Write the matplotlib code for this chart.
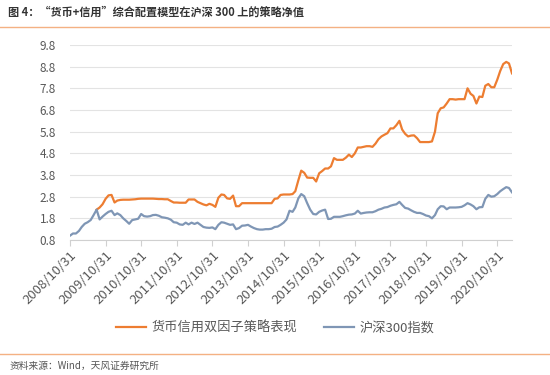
import matplotlib
matplotlib.use('Agg')
from matplotlib import pyplot as plt
from matplotlib.transforms import ScaledTranslation
import numpy as np
import pandas as pd

plt.rcParams['font.family'] = ['Noto Sans CJK SC', 'DejaVu Sans']

# monthly net values, 2008/10 .. 2021/03
strategy = [np.nan] * 9 + [2.2, 2.3, 2.45,
    2.7, 2.86, 2.88, 2.53, 2.62, 2.65, 2.66, 2.66, 2.66, 2.67, 2.68, 2.7,
    2.71, 2.71, 2.71, 2.71, 2.71, 2.7, 2.69, 2.69, 2.68, 2.68, 2.6, 2.53,
    2.53, 2.52, 2.52, 2.52, 2.67, 2.67, 2.67, 2.56, 2.5, 2.44, 2.4, 2.47,
    2.42, 2.33, 2.75, 2.9, 2.88, 2.72, 2.7, 2.85, 2.36, 2.36, 2.5, 2.5,
    2.5, 2.5, 2.5, 2.5, 2.5, 2.5, 2.5, 2.5, 2.5, 2.7, 2.72, 2.88,
    2.9, 2.9, 2.9, 2.92, 3.05, 3.55, 4.0, 3.9, 3.68, 3.67, 3.67, 3.5,
    3.88, 3.98, 4.1, 4.1, 4.2, 4.58, 4.5, 4.5, 4.5, 4.6, 4.74, 4.63,
    4.8, 5.07, 5.07, 5.1, 5.13, 5.13, 5.1, 5.25, 5.45, 5.58, 5.66, 5.73,
    5.95, 5.95, 6.1, 6.3, 5.9, 5.7, 5.58, 5.62, 5.63, 5.5, 5.32, 5.32,
    5.32, 5.32, 5.35, 5.8, 6.65, 6.88, 6.92, 7.1, 7.3, 7.3, 7.28, 7.3,
    7.3, 7.3, 7.8, 7.55, 7.45, 7.1, 7.42, 7.4, 7.92, 8.0, 7.85, 7.85,
    8.2, 8.6, 8.92, 9.02, 8.95, 8.49]

hs300 = [1.0, 1.1, 1.1, 1.22, 1.4, 1.55, 1.62, 1.72, 1.95, 2.2, 1.75, 1.88,
    2.0, 2.1, 2.15, 1.95, 2.03, 1.95, 1.8, 1.68, 1.55, 1.72, 1.75, 1.78,
    2.0, 1.9, 1.88, 1.9, 1.95, 1.96, 1.92, 1.85, 1.83, 1.8, 1.74, 1.62,
    1.6, 1.52, 1.5, 1.6, 1.52, 1.6, 1.54, 1.6, 1.5, 1.4, 1.37, 1.36,
    1.38, 1.3, 1.5, 1.62, 1.6, 1.55, 1.5, 1.52, 1.3, 1.35, 1.46, 1.47,
    1.5, 1.42, 1.35, 1.3, 1.28, 1.28, 1.3, 1.3, 1.32, 1.4, 1.42, 1.5,
    1.6, 1.75, 2.15, 2.1, 2.3, 2.72, 2.92, 2.82, 2.5, 2.2, 2.0, 1.98,
    2.1, 2.16, 2.2, 1.77, 1.78, 1.87, 1.87, 1.87, 1.9, 1.94, 1.97, 1.98,
    2.02, 2.15, 2.02, 2.05, 2.07, 2.08, 2.08, 2.13, 2.2, 2.24, 2.3, 2.32,
    2.38, 2.42, 2.45, 2.56, 2.42, 2.28, 2.25, 2.17, 2.1, 2.05, 2.05, 2.0,
    1.93, 1.9, 1.8, 1.95, 2.22, 2.36, 2.35, 2.22, 2.3, 2.3, 2.3, 2.31,
    2.33, 2.4, 2.5, 2.44, 2.36, 2.22, 2.31, 2.32, 2.7, 2.88, 2.8, 2.82,
    2.92, 3.05, 3.15, 3.24, 3.2, 3.0]

dates = pd.date_range('2008-10-31', periods=len(hs300), freq='ME')
tick_dates = pd.date_range('2008-10-31', '2020-10-31', freq='12ME')
tick_labels = [d.strftime('%Y/%m/%d') for d in tick_dates]
y_ticks = np.arange(0.8, 9.81, 1.0)

fig = plt.figure(figsize=(5.5, 3.75), dpi=100)
ax = fig.add_axes([70 / 550, 1 - 240 / 375, 442 / 550, 195 / 375])

ax.plot(dates, strategy, color='#ED7D31', lw=1.6, label='货币信用双因子策略表现')
ax.plot(dates, hs300, color='#7F96B5', lw=1.6, label='沪深300指数')

ax.set_xlim(dates[0], dates[-1])
ax.set_ylim(0.8, 9.8)
ax.set_yticks(y_ticks)
ax.set_yticklabels(['%.1f' % v for v in y_ticks])
ax.set_xticks(tick_dates)
ax.set_xticklabels(tick_labels, rotation=45, ha='right', va='top', rotation_mode='anchor')
# nudge the rotated labels a little to the right, like the original
shift = ScaledTranslation(0.04, 0, fig.dpi_scale_trans)
for lbl in ax.get_xticklabels():
    lbl.set_transform(lbl.get_transform() + shift)

ax.grid(axis='y', color='#E3E3E3', lw=0.8)
ax.set_axisbelow(True)
for s in ['left', 'right', 'top']:
    ax.spines[s].set_visible(False)
ax.spines['bottom'].set_color('#D0D0D0')
ax.tick_params(axis='y', length=0, labelsize=8.5, labelcolor='#595959', pad=10)
ax.tick_params(axis='x', length=4, color='#D0D0D0', labelsize=9.5, labelcolor='#595959', pad=2)

fig.legend(loc='center', bbox_to_anchor=(0.5, 1 - 328 / 375), ncol=2, frameon=False,
           fontsize=9.5, handlelength=2.3, handletextpad=0.4, columnspacing=2,
           labelcolor='#595959')

# title and source
fig.text(8 / 550, 1 - 12 / 375, '图 4：“货币+信用”综合配置模型在沪深 300 上的策略净值',
         fontsize=8, fontweight='bold', color='#333333', va='center')
fig.add_artist(plt.Line2D([0, 1], [1 - 27 / 375] * 2, color='#F4B183', lw=1))
fig.add_artist(plt.Line2D([0, 1], [1 - 354 / 375] * 2, color='#F4B183', lw=1))
fig.text(10 / 550, 1 - 366 / 375, '资料来源：Wind，天风证券研究所',
         fontsize=7, color='#555555', va='center')

fig.savefig('out.png', dpi=100)
